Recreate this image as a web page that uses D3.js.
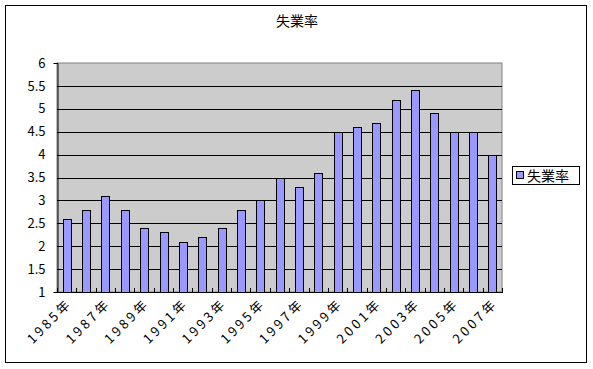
<!DOCTYPE html>
<html>
<head>
<meta charset="utf-8">
<script src="https://cdn.jsdelivr.net/npm/d3@7"></script>
<style>
  body { margin: 0; background: #fff; }
  text { font-family: "Noto Sans CJK JP", "DejaVu Sans", sans-serif; }
</style>
</head>
<body>
<div id="chart"></div>
<script>
// data
var Years = ["1985年","1986年","1987年","1988年","1989年","1990年","1991年","1992年","1993年","1994年","1995年","1996年",
             "1997年","1998年","1999年","2000年","2001年","2002年","2003年","2004年","2005年","2006年","2007年"];
var Rates = [2.6, 2.8, 3.1, 2.8, 2.4, 2.3, 2.1, 2.2, 2.4, 2.8, 3.0, 3.5,
             3.3, 3.6, 4.5, 4.6, 4.7, 5.2, 5.4, 4.9, 4.5, 4.5, 4.0];
var YTicks = [1, 1.5, 2, 2.5, 3, 3.5, 4, 4.5, 5, 5.5, 6];
var SeriesName = "失業率";

var Width = 593, Height = 369;
var Plot = { left: 57, top: 63, right: 502, bottom: 292 };

var svg = d3.select("#chart").append("svg")
    .attr("width", Width)
    .attr("height", Height);

// outer chart border
svg.append("rect")
    .attr("x", 5.5).attr("y", 5.5)
    .attr("width", 581).attr("height", 357)
    .attr("fill", "#fff")
    .attr("stroke", "#000");

// title
svg.append("text")
    .attr("x", 297).attr("y", 26)
    .attr("text-anchor", "middle")
    .attr("font-size", 14)
    .text(SeriesName);

var X = d3.scaleBand()
    .domain(Years)
    .range([Plot.left, Plot.right])
    .paddingInner(0.6)
    .paddingOuter(0.3);

var Y = d3.scaleLinear()
    .domain([1, 6])
    .range([Plot.bottom, Plot.top]);

// plot area background
svg.append("rect")
    .attr("x", Plot.left).attr("y", Plot.top)
    .attr("width", Plot.right - Plot.left)
    .attr("height", Plot.bottom - Plot.top)
    .attr("fill", "#cccccc")
    .attr("stroke", "#808080");

// gridlines
svg.append("g")
    .selectAll("line")
    .data(YTicks.filter(d => d > 1 && d < 6))
    .enter()
    .append("line")
    .attr("x1", Plot.left).attr("x2", Plot.right)
    .attr("y1", d => Math.round(Y(d)) + 0.5)
    .attr("y2", d => Math.round(Y(d)) + 0.5)
    .attr("stroke", "#000");

// bars
svg.append("g")
    .selectAll("rect")
    .data(Rates)
    .enter()
    .append("rect")
    .attr("x", (d, i) => Math.round(X(Years[i])) + 0.5)
    .attr("y", d => Math.round(Y(d)) + 0.5)
    .attr("width", Math.round(X.bandwidth()))
    .attr("height", d => Math.round(Y(1)) - Math.round(Y(d)))
    .attr("fill", "#9999ff")
    .attr("stroke", "#000");

// y axis
var YAxis = d3.axisLeft(Y)
    .tickValues(YTicks)
    .tickSize(4)
    .tickFormat(d3.format(""));
var yg = svg.append("g")
    .attr("transform", "translate(" + (Plot.left + 0.5) + ",0)")
    .call(YAxis);
yg.select(".domain").attr("stroke", "#000");
yg.selectAll(".tick line").attr("x2", 0).attr("x1", 0);
yg.selectAll(".tick text")
    .attr("x", -12)
    .attr("font-size", 13)
    .attr("font-family", "Noto Sans CJK JP, sans-serif")
    .attr("fill", "#000");

// x axis: ticks at category boundaries, pointing up into the plot
var Step = (Plot.right - Plot.left) / Years.length;
var bottom = svg.append("g");
bottom.append("line")
    .attr("x1", Plot.left).attr("x2", Plot.right + 1)
    .attr("y1", Plot.bottom + 0.5).attr("y2", Plot.bottom + 0.5)
    .attr("stroke", "#000");
bottom.selectAll("line.tk")
    .data(d3.range(Years.length + 1))
    .enter()
    .append("line")
    .attr("class", "tk")
    .attr("x1", i => Math.round(Plot.left + i * Step) + 0.5)
    .attr("x2", i => Math.round(Plot.left + i * Step) + 0.5)
    .attr("y1", Plot.bottom - 4)
    .attr("y2", Plot.bottom)
    .attr("stroke", "#000");

// x labels, every other year, rotated
bottom.selectAll("text")
    .data(Years.filter((d, i) => i % 2 === 0))
    .enter()
    .append("text")
    .attr("transform", d => "translate(" + (X(d) + X.bandwidth() / 2 + 3) + "," + (Plot.bottom + 9) + ") rotate(-45)")
    .attr("text-anchor", "end")
    .attr("dy", "0.35em")
    .attr("font-size", 13)
    .attr("letter-spacing", 3)
    .text(d => d);

// legend
var lg = svg.append("g");
lg.append("rect")
    .attr("x", 512.5).attr("y", 166.5)
    .attr("width", 67).attr("height", 18)
    .attr("fill", "#fff")
    .attr("stroke", "#000");
lg.append("rect")
    .attr("x", 516.5).attr("y", 171.5)
    .attr("width", 7).attr("height", 7)
    .attr("fill", "#9999ff")
    .attr("stroke", "#000");
lg.append("text")
    .attr("x", 527).attr("y", 176)
    .attr("dy", "0.35em")
    .attr("font-size", 14)
    .text(SeriesName);
</script>
</body>
</html>
